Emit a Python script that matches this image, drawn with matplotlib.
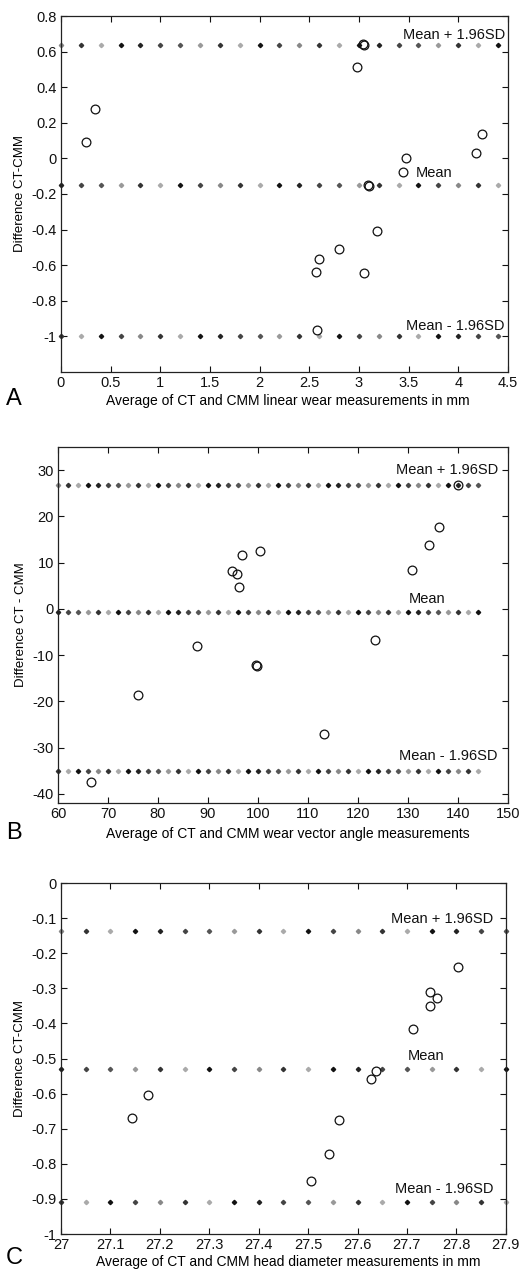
import numpy as np
import matplotlib as mpl
import matplotlib.pyplot as plt

plt.rcParams['font.family'] = ['Liberation Sans', 'DejaVu Sans']

# Panel A: linear wear (mm)
a_x = [0.255, 0.345, 3.05, 3.04, 2.98, 3.09, 3.10, 3.44, 3.475, 4.175, 4.236,
       3.18, 2.80, 2.60, 2.565, 3.056, 2.58]
a_y = [0.09, 0.275, 0.638, 0.64, 0.515, -0.15, -0.155, -0.075, 0.005, 0.03, 0.136,
       -0.41, -0.51, -0.566, -0.638, -0.642, -0.966]
a_lines = [0.638, -0.151, -1.0]   # mean+1.96SD, mean, mean-1.96SD

# Panel B: wear vector angle
b_x = [140.0, 136.1, 134.2, 130.7, 123.3, 113.2, 100.4, 96.7, 94.7, 95.7, 96.2,
       99.5, 99.7, 87.7, 75.9, 66.6]
b_y = [26.8, 17.7, 13.9, 8.3, -6.7, -27.0, 12.6, 11.7, 8.1, 7.6, 4.7,
       -12.2, -12.4, -8.1, -18.6, -37.5]
b_lines = [26.7, -0.7, -35.1]

# Panel C: head diameter (mm)
c_x = [27.804, 27.746, 27.761, 27.746, 27.712, 27.638, 27.628, 27.563, 27.542,
       27.505, 27.176, 27.143]
c_y = [-0.24, -0.31, -0.328, -0.351, -0.416, -0.535, -0.557, -0.676, -0.773,
       -0.85, -0.604, -0.670]
c_lines = [-0.137, -0.53, -0.91]

shades = ['#888888', '#333333', '#aaaaaa', '#111111', '#222222', '#444444',
          '#555555', '#999999', '#333333', '#aaaaaa', '#111111', '#444444']

fig = plt.figure(figsize=(5.19, 12.70), dpi=100)


def panel(rect, xs, ys, lines, dot_x, xlim, ylim, xticks, yticks, xlabel, ylabel,
          labels, letter, letter_y, xlabel_y):
    ax = fig.add_axes(rect)
    for k, yv in enumerate(lines):
        for i, dx in enumerate(dot_x):
            ax.plot(dx, yv, marker='D', markersize=2.2, linestyle='none',
                    color=shades[(i + 4 * k) % len(shades)], clip_on=False, zorder=2)
    ax.plot(xs, ys, 'o', markersize=6.3, markerfacecolor='none',
            markeredgecolor='#111111', markeredgewidth=0.9, zorder=3)
    ax.set_xlim(*xlim)
    ax.set_ylim(*ylim)
    ax.set_xticks(xticks)
    ax.set_yticks(yticks)
    ax.set_xticklabels([('%g' % t) for t in xticks])
    ax.set_yticklabels([('%g' % t) for t in yticks])
    ax.tick_params(direction='in', top=True, right=True, length=4, width=0.8,
                   labelsize=10.5, colors='#111111', pad=3)
    for s in ax.spines.values():
        s.set_linewidth(0.9)
        s.set_color('#222222')
    for (tx, ty, txt, ha) in labels:
        ax.text(tx, ty, txt, ha=ha, va='center', fontsize=10.5, color='#111111')
    ax.set_ylabel(ylabel, fontsize=9.5, labelpad=4)
    fig.text(0.555, xlabel_y, xlabel, ha='center', va='center', fontsize=10)
    fig.text(0.012, letter_y, letter, ha='left', va='center', fontsize=17)
    return ax


panel([0.1175, 0.7071, 0.861, 0.2803], a_x, a_y, a_lines,
      np.arange(0, 4.41, 0.2), (0, 4.5), (-1.2, 0.8),
      [0, 0.5, 1, 1.5, 2, 2.5, 3, 3.5, 4, 4.5],
      [-1, -0.8, -0.6, -0.4, -0.2, 0, 0.2, 0.4, 0.6, 0.8],
      'Average of CT and CMM linear wear measurements in mm', 'Difference CT-CMM',
      [(4.47, 0.695, 'Mean + 1.96SD', 'right'), (3.76, -0.08, 'Mean', 'center'),
       (4.47, -0.94, 'Mean - 1.96SD', 'right')],
      'A', 1 - 399 / 1270, 1 - 401 / 1270)

panel([0.1118, 0.3677, 0.867, 0.2803], b_x, b_y, b_lines,
      np.arange(60, 144.1, 2), (60, 150), (-42, 35),
      [60, 70, 80, 90, 100, 110, 120, 130, 140, 150],
      [-40, -30, -20, -10, 0, 10, 20, 30],
      'Average of CT and CMM wear vector angle measurements', 'Difference CT - CMM',
      [(148.0, 30.1, 'Mean + 1.96SD', 'right'), (133.9, 2.2, 'Mean', 'center'),
       (148.0, -31.9, 'Mean - 1.96SD', 'right')],
      'B', 1 - 833 / 1270, 1 - 834 / 1270)

panel([0.1175, 0.0283, 0.857, 0.2764], c_x, c_y, c_lines,
      np.arange(27.0, 27.901, 0.05), (27, 27.9), (-1, 0),
      [27, 27.1, 27.2, 27.3, 27.4, 27.5, 27.6, 27.7, 27.8, 27.9],
      [-1, -0.9, -0.8, -0.7, -0.6, -0.5, -0.4, -0.3, -0.2, -0.1, 0],
      'Average of CT and CMM head diameter measurements in mm', 'Difference CT-CMM',
      [(27.875, -0.103, 'Mean + 1.96SD', 'right'), (27.738, -0.492, 'Mean', 'center'),
       (27.875, -0.873, 'Mean - 1.96SD', 'right')],
      'C', 1 - 1258 / 1270, 1 - 1262 / 1270)

fig.savefig('out.png', dpi=100)
